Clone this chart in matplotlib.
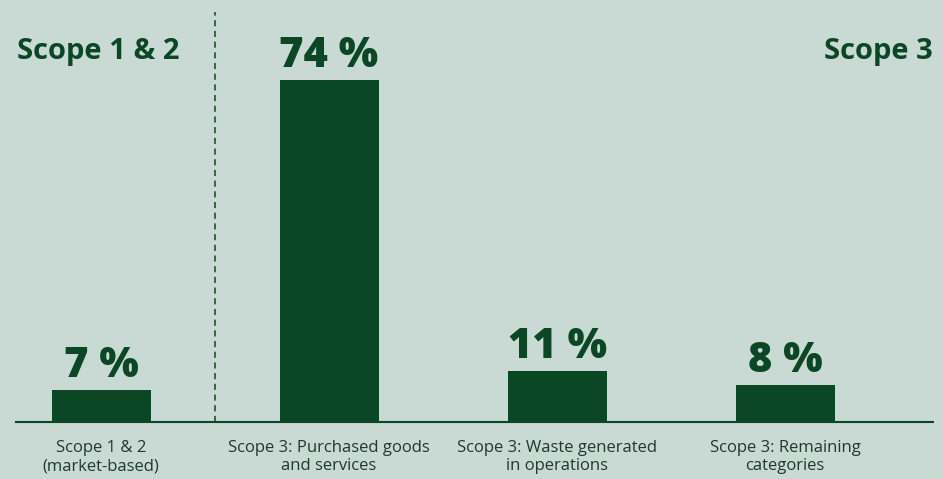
import matplotlib.pyplot as plt
import numpy as np

plt.rcParams['font.family'] = ['Open Sans', 'DejaVu Sans']

categories = [
    "Scope 1 & 2\n(market-based)",
    "Scope 3: Purchased goods\nand services",
    "Scope 3: Waste generated\nin operations",
    "Scope 3: Remaining\ncategories",
]
shares = [7, 74, 11, 8]
value_labels = ["7 %", "74 %", "11 %", "8 %"]

bg = "#c9d9d3"
green = "#0b4625"

fig = plt.figure(figsize=(9.43, 4.79), dpi=100, facecolor=bg)
W, H = 943, 479
base_px = 422
ax = fig.add_axes([16 / W, (H - base_px) / H, (933 - 16) / W, base_px / H])
ax.set_facecolor(bg)

x = np.arange(len(shares))
ax.bar(x, shares, width=0.434, color=green, zorder=2)
ax.set_xlim(-0.373, 3.649)
ax.set_ylim(0, 74 * base_px / (base_px - 80))

for xi, v, lab in zip(x, shares, value_labels):
    ax.annotate(lab, (xi, v), xytext=(0, 2), textcoords="offset points",
                ha="center", va="bottom", fontsize=30, fontweight="heavy",
                color=green)

# divider between scope 1&2 and scope 3
ax.axvline(0.500, ymin=0, ymax=(base_px - 12) / base_px, color=green,
           linestyle=(0, (4, 3)), linewidth=1.1)

for s in ["top", "right", "left"]:
    ax.spines[s].set_visible(False)
ax.spines["bottom"].set_color(green)
ax.spines["bottom"].set_linewidth(1.5)
ax.set_yticks([])
ax.set_xticks(x)
ax.set_xticklabels(categories, fontsize=12, color="#1d3a2b", linespacing=1.2)
ax.tick_params(axis="x", length=0, pad=13)

fig.text(17 / W, 1 - 52 / H, "Scope 1 & 2", ha="left", va="center",
         fontsize=21, fontweight="bold", color=green)
fig.text(933 / W, 1 - 52 / H, "Scope 3", ha="right", va="center",
         fontsize=21, fontweight="bold", color=green)

fig.savefig("out.png", dpi=100, facecolor=bg)
